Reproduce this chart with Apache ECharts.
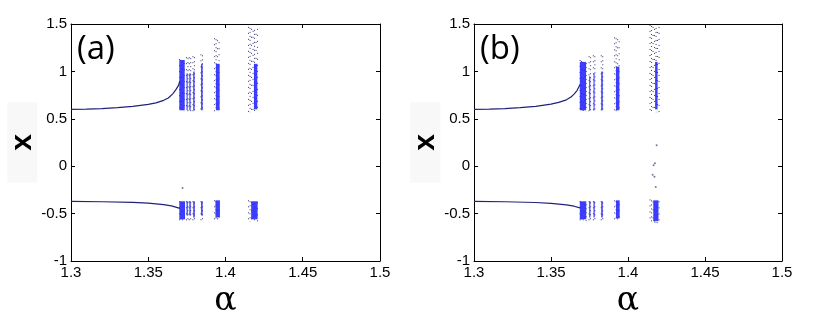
<!DOCTYPE html>
<html><head><meta charset="utf-8">
<script src="https://cdn.jsdelivr.net/npm/echarts@6/dist/echarts.min.js"></script>
<style>html,body{margin:0;padding:0;background:#fff}#c{width:822px;height:312px}</style>
</head><body><div id="c"></div>
<script>
// ---- data ----
const xTicks = [1.3, 1.35, 1.4, 1.45, 1.5];
const yTicks = [-1, -0.5, 0, 0.5, 1, 1.5];
const panelLabels = ['(a)', '(b)'];

// Panel (a): periodic branches [alpha, x]
const aUpperBranch = [[1.30,0.600],[1.31,0.603],[1.32,0.608],[1.33,0.617],[1.34,0.632],[1.35,0.652],[1.355,0.668],[1.36,0.695],[1.363,0.72],[1.366,0.765],[1.368,0.81],[1.3695,0.85],[1.3705,0.90]];
const aLowerBranch = [[1.30,-0.372],[1.32,-0.375],[1.34,-0.382],[1.35,-0.390],[1.36,-0.405],[1.365,-0.418],[1.3705,-0.445]];
// chaotic bands [alphaStart, alphaEnd, xLow, xHigh]
const aSparseBands = [[1.3700,1.3740,0.58,1.13],[1.3744,1.3758,0.58,1.15],[1.3762,1.3778,0.58,1.15],[1.3786,1.3804,0.58,1.16],[1.3838,1.3856,0.58,1.18],[1.3926,1.3968,0.58,1.35],[1.4146,1.4214,0.57,1.47],
                      [1.3700,1.3740,-0.585,-0.37],[1.3744,1.3758,-0.58,-0.37],[1.3762,1.3778,-0.58,-0.37],[1.3786,1.3804,-0.58,-0.37],[1.3838,1.3856,-0.58,-0.37],[1.3926,1.3968,-0.58,-0.36],[1.4146,1.4214,-0.585,-0.36]];
const aDenseBands = [[1.3701,1.3736,0.59,1.12],[1.3748,1.3755,0.59,0.98],[1.3766,1.3774,0.59,0.98],[1.3791,1.3800,0.59,1.00],[1.3842,1.3852,0.59,1.08],[1.3938,1.3962,0.59,1.08],[1.4184,1.4206,0.60,1.08],
                     [1.3701,1.3738,-0.56,-0.37],[1.3748,1.3756,-0.52,-0.37],[1.3766,1.3775,-0.52,-0.37],[1.3791,1.3801,-0.54,-0.37],[1.3842,1.3852,-0.52,-0.37],[1.3935,1.3964,-0.54,-0.36],[1.4166,1.4208,-0.56,-0.37]];
const aPoints = [[1.3722,-0.23]];

// Panel (b)
const bUpperBranch = [[1.30,0.600],[1.31,0.603],[1.32,0.608],[1.33,0.617],[1.34,0.632],[1.35,0.655],[1.355,0.673],[1.36,0.700],[1.363,0.73],[1.365,0.76],[1.367,0.80],[1.3688,0.86]];
const bLowerBranch = [[1.30,-0.372],[1.32,-0.375],[1.34,-0.383],[1.35,-0.392],[1.36,-0.408],[1.365,-0.422],[1.3688,-0.44]];
const bSparseBands = [[1.3686,1.3730,0.58,1.12],[1.3744,1.3758,0.58,1.16],[1.3772,1.3786,0.58,1.17],[1.3823,1.3839,0.58,1.17],[1.3910,1.3950,0.58,1.36],[1.4140,1.4208,0.57,1.49],
                      [1.3686,1.3730,-0.58,-0.37],[1.3744,1.3758,-0.58,-0.37],[1.3772,1.3786,-0.58,-0.37],[1.3823,1.3839,-0.58,-0.37],[1.3910,1.3950,-0.58,-0.36],[1.4140,1.4208,-0.60,-0.35]];
const bDenseBands = [[1.3687,1.3728,0.59,1.10],[1.3748,1.3755,0.59,0.95],[1.3776,1.3783,0.59,0.98],[1.3826,1.3836,0.59,1.00],[1.3922,1.3944,0.59,1.05],[1.4176,1.4192,0.60,1.10],
                     [1.3687,1.3729,-0.56,-0.37],[1.3748,1.3756,-0.54,-0.37],[1.3776,1.3784,-0.54,-0.37],[1.3826,1.3836,-0.54,-0.37],[1.3922,1.3946,-0.55,-0.36],[1.4164,1.4198,-0.58,-0.36]];
const bPoints = [[1.4186,0.22],[1.4175,0.03],[1.4166,0.01],[1.4160,-0.09],[1.4172,-0.11],[1.4180,-0.22]];

// ---- rendering ----
function bandRender(kind){
  return function(params, api){
    const a0=api.value(0), a1=api.value(1), lo=api.value(2), hi=api.value(3);
    const p0=api.coord([a0,hi]), p1=api.coord([a1,lo]);
    const x=p0[0], y=p0[1], w=Math.max(1,p1[0]-p0[0]), h=p1[1]-p0[1];
    if(kind==='dense'){
      return {type:'rect', shape:{x:x,y:y,width:w,height:h}, style:{fill:'#2e2eff', opacity:0.92}};
    }
    const children=[];
    let k=0;
    for(let cx=x+0.5; cx<=x+w+0.01; cx+=1.5, k++){
      const dash = (k%3===0)?[1,5]:((k%3===1)?[1,3]:[1,7]);
      children.push({type:'line', shape:{x1:cx,y1:y,x2:cx,y2:y+h},
        style:{stroke:'#35356e', lineWidth:1, lineDash:dash, lineDashOffset:(k*3)%7}});
    }
    return {type:'group', children:children};
  };
}

const grids = [{left:71, top:24, width:309, height:237, outerBoundsMode:'none', containLabel:false},
               {left:474, top:24, width:308, height:237, outerBoundsMode:'none', containLabel:false}];
const axisFont = {color:'#000', fontFamily:'Liberation Sans', fontSize:15};
const xAxes=[], yAxes=[], series=[], graphics=[];
const panels = [
  {up:aUpperBranch, low:aLowerBranch, sparse:aSparseBands, dense:aDenseBands, pts:aPoints},
  {up:bUpperBranch, low:bLowerBranch, sparse:bSparseBands, dense:bDenseBands, pts:bPoints}
];
panels.forEach((p,i)=>{
  const base = {min:xTicks[0], max:xTicks[xTicks.length-1], interval:0.05, gridIndex:i,
    axisLine:{show:true, onZero:false, lineStyle:{color:'#000', width:1}},
    axisTick:{show:true, inside:true, length:4, lineStyle:{color:'#000'}}, splitLine:{show:false}};
  xAxes.push(Object.assign({}, base, {type:'value', position:'bottom',
    axisLabel:Object.assign({margin:4, formatter:v=>String(+v.toFixed(2))}, axisFont),
    name:'α', nameLocation:'middle', nameGap:24,
    nameTextStyle:{fontFamily:'DejaVu Serif', fontSize:33, color:'#000'}}));
  xAxes.push(Object.assign({}, base, {type:'value', position:'top', axisLabel:{show:false}}));
  const ybase = {type:'value', min:yTicks[0], max:yTicks[yTicks.length-1], interval:0.5, gridIndex:i,
    axisLine:{show:true, onZero:false, lineStyle:{color:'#000', width:1}},
    axisTick:{show:true, inside:true, length:4, lineStyle:{color:'#000'}}, splitLine:{show:false}};
  yAxes.push(Object.assign({}, ybase, {position:'left',
    axisLabel:Object.assign({margin:4, formatter:v=>String(+v.toFixed(2))}, axisFont),
    name:'x', nameLocation:'middle', nameGap: i===0?28:33, nameRotate:90,
    nameTextStyle:{fontFamily:'Liberation Sans', fontWeight:'bold', fontSize:30, color:'#000',
      backgroundColor:'#f8f8f8', padding:[0,32,0,32]}}));
  yAxes.push(Object.assign({}, ybase, {position:'right', axisLabel:{show:false}}));
  const xi=i*2, yi=i*2;
  series.push({type:'custom', xAxisIndex:xi, yAxisIndex:yi, renderItem:bandRender('sparse'), data:p.sparse, encode:{x:[0,1], y:[2,3]}, silent:true, animation:false});
  series.push({type:'custom', xAxisIndex:xi, yAxisIndex:yi, renderItem:bandRender('dense'), data:p.dense, encode:{x:[0,1], y:[2,3]}, silent:true, animation:false});
  series.push({type:'line', xAxisIndex:xi, yAxisIndex:yi, data:p.up, showSymbol:false, lineStyle:{color:'#22227a', width:1.2}, animation:false});
  series.push({type:'line', xAxisIndex:xi, yAxisIndex:yi, data:p.low, showSymbol:false, lineStyle:{color:'#22227a', width:1.2}, animation:false});
  series.push({type:'scatter', xAxisIndex:xi, yAxisIndex:yi, data:p.pts, symbolSize:2, itemStyle:{color:'#55558a'}, animation:false});
  graphics.push({type:'text', left: grids[i].left+6, top:33,
    style:{text:panelLabels[i], font:'500 33px "Open Sans", "Noto Sans", sans-serif', fill:'#000'}});
});

const chart = echarts.init(document.getElementById('c'), null, {renderer:'canvas'});
chart.setOption({
  backgroundColor:'#fff', animation:false,
  grid:grids, xAxis:xAxes, yAxis:yAxes, series:series, graphic:graphics
});
</script></body></html>
